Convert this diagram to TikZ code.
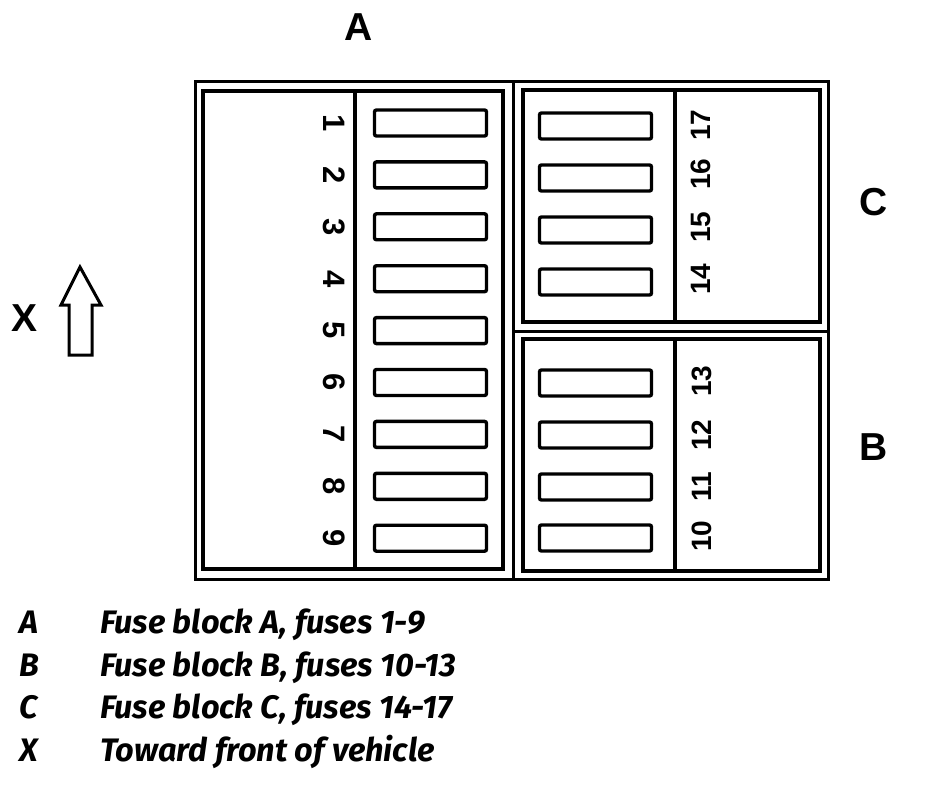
\documentclass[tikz,border=0pt]{standalone}
\usepackage{fontspec}
\setmainfont{Liberation Sans}
\newfontfamily\legendfont{Fira Sans}

\begin{document}
\begin{tikzpicture}[x=1pt, y=-1pt,
        frame/.style ={line width=3pt},
        fuse/.style  ={draw, line width=3.4pt, rounded corners=2pt,
                       minimum width=112pt, minimum height=26pt, inner sep=0pt},
        numA/.style  ={font=\bfseries\fontsize{31}{31}\selectfont, inner sep=0pt, rotate=-90},
        numBC/.style ={font=\bfseries\fontsize{28}{28}\selectfont, inner sep=0pt, rotate=90},
        blk/.style   ={font=\bfseries\fontsize{39}{39}\selectfont, inner sep=0pt},
        key/.style   ={font=\legendfont\bfseries\itshape\fontsize{32.5}{32.5}\selectfont,
                       inner sep=0pt, anchor=base west}]
    \useasboundingbox (0,0) rectangle (928,786);

    %--- Housing ---
    \draw[frame] (195,82) rectangle (828,579);
    \draw[frame] (513,82) -- (513,579);
    \draw[frame] (513,331) -- (828,331);

    %--- Blocks ---
    \draw[frame, line width=3.8pt] (203,91) rectangle (503,569);
    \draw[frame, line width=3.8pt] (355,91) -- (355,569);
    \draw[frame, line width=3.8pt] (523,90) rectangle (820,322);
    \draw[frame, line width=3.8pt] (675,90) -- (675,322);
    \draw[frame, line width=3.8pt] (523,339) rectangle (820,571);
    \draw[frame, line width=3.8pt] (675,339) -- (675,571);

    %--- Fuse block A ---
    \foreach \i in {1,...,9}
        \node[fuse] (f\i) at (430.5, {123 + (\i-1)*51.9}) {};
    \foreach \i in {1,...,9}
        \node[numA] (n\i) at (334, {123 + (\i-1)*51.9}) {\i};

    %--- Fuse block C ---
    \foreach \i/\y in {17/126, 16/178, 15/230, 14/282}
        \node[fuse] (f\i) at (595.5, \y) {};
    \foreach \i/\y in {17/125, 16/174, 15/227, 14/279}
        \node[numBC] (n\i) at (701, \y) {\i};

    %--- Fuse block B ---
    \foreach \i/\y in {13/383, 12/435, 11/487, 10/538}
        \node[fuse] (f\i) at (595.5, \y) {};
    \foreach \i/\y in {13/381, 12/435, 11/487, 10/536}
        \node[numBC] (n\i) at (702, \y) {\i};

    %--- Block letters ---
    \node[blk] (A) at (359,27)  {A};
    \node[blk] (C) at (874,202) {C};
    \node[blk] (B) at (874,447) {B};
    \node[blk] (X) at (25,318)  {X};

    %--- Front arrow ---
    \draw[line width=3pt, line join=miter]
        (80,267) -- (101,305) -- (92,305) -- (92,355)
        -- (69,355) -- (69,305) -- (61,305) -- cycle;

    %--- Legend ---
    \node[key] (kA) at (19,633) {A};
    \node[key] (kB) at (19,676) {B};
    \node[key] (kC) at (19,718) {C};
    \node[key] (kX) at (19,761) {X};
    \node[key] (tA) at (100,633) {Fuse block A, fuses 1-9};
    \node[key] (tB) at (100,676) {Fuse block B, fuses 10-13};
    \node[key] (tC) at (100,718) {Fuse block C, fuses 14-17};
    \node[key] (tX) at (100,761) {Toward front of vehicle};

\end{tikzpicture}
\end{document}
